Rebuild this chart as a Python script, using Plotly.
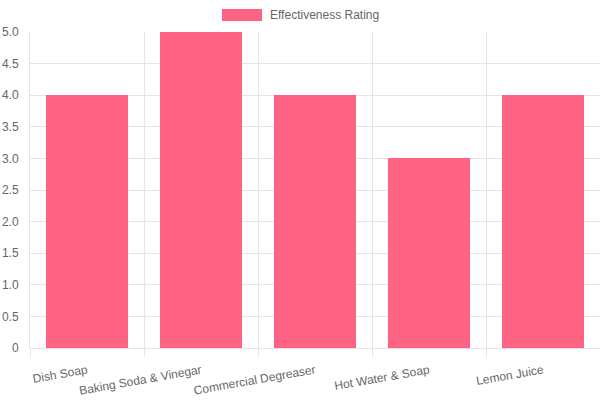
import plotly.graph_objects as go

categories = ["Dish Soap", "Baking Soda & Vinegar", "Commercial Degreaser", "Hot Water & Soap", "Lemon Juice"]
ratings = [4, 5, 4, 3, 4]
y_tickvals = [0, 0.5, 1, 1.5, 2, 2.5, 3, 3.5, 4, 4.5, 5]
y_ticktext = ["0", "0.5", "1.0", "1.5", "2.0", "2.5", "3.0", "3.5", "4.0", "4.5", "5.0"]
series_name = "Effectiveness Rating"

color = "#ff6384"
grid = "#e5e5e5"
font = dict(family="Liberation Sans, Arial, sans-serif", size=12, color="#666666")

fig = go.Figure(go.Bar(x=categories, y=ratings, name=series_name, marker=dict(color=color, line=dict(width=0)), width=0.72, showlegend=False))

fig.update_layout(
    width=600, height=400,
    margin=dict(l=30, r=0, t=32, b=52),
    plot_bgcolor="white", paper_bgcolor="white",
    font=font,
    xaxis=dict(tickson="boundaries", showgrid=True, gridcolor=grid, gridwidth=1,
               ticks="outside", ticklen=8, tickcolor=grid, tickangle=-10,
               ticklabelstandoff=10,
               showline=True, linecolor=grid, tickfont=font),
    yaxis=dict(range=[0, 5], tickvals=y_tickvals, ticktext=y_ticktext,
               showgrid=True, gridcolor=grid, showline=True, linecolor=grid,
               zeroline=False, ticks="", tickfont=font, ticklabelstandoff=8),
    bargap=0,
)

fig.add_shape(type="rect", xref="paper", yref="paper",
              x0=(222 - 30) / 570, x1=(262 - 30) / 570,
              y0=(400 - 21 - 52) / 316, y1=(400 - 9 - 52) / 316,
              fillcolor=color, line=dict(width=0))
fig.add_annotation(xref="paper", yref="paper", x=(268 - 30) / 570, y=(400 - 15 - 52) / 316,
                   text=series_name, showarrow=False, xanchor="left", yanchor="middle", font=font)

fig.write_html("out.html")
